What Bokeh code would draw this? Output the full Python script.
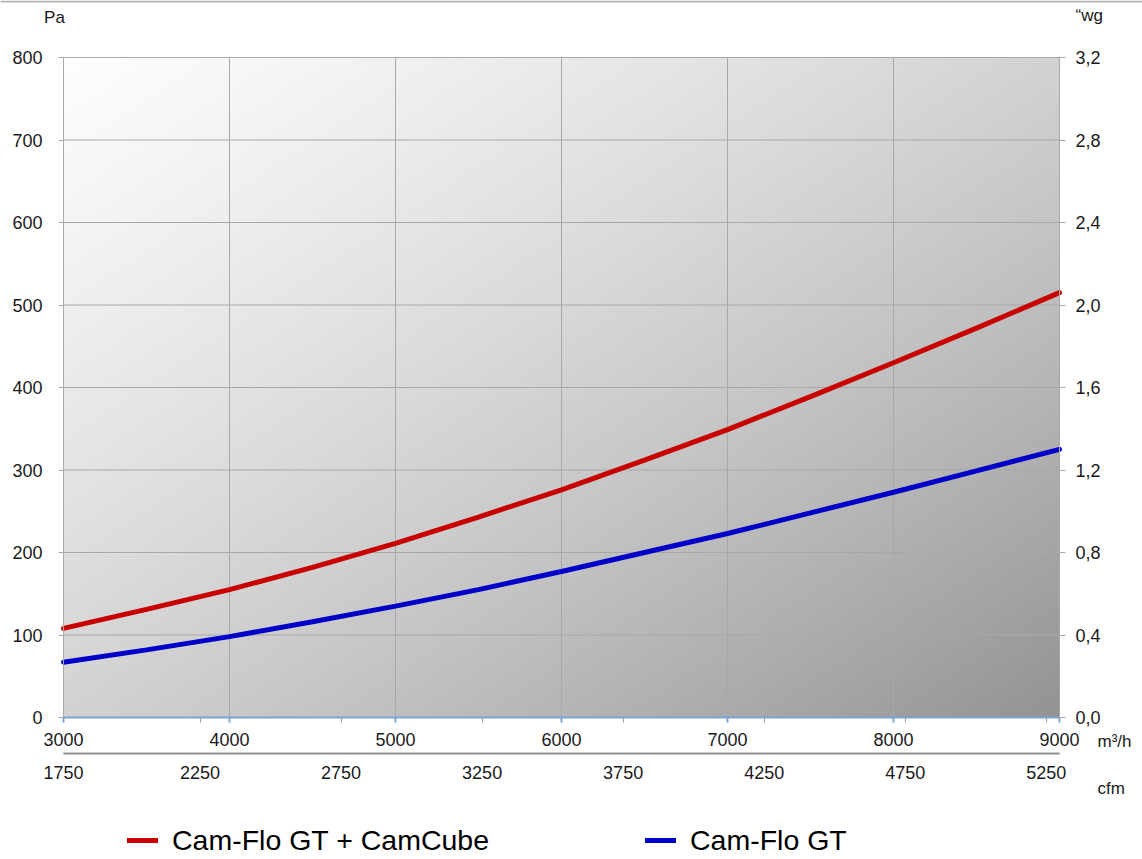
import numpy as np
from bokeh.plotting import figure
from bokeh.models import (LinearAxis, FixedTicker, Range1d, Legend, LegendItem, Label, Span)
from bokeh.embed import file_html
from bokeh.resources import INLINE

# ---- data ----
flow_m3h = [3000, 3500, 4000, 4500, 5000, 5500, 6000, 6500, 7000, 7500, 8000, 8500, 9000]
pa_gt_cube = [108, 131, 155, 182, 211, 243, 276, 312, 349, 389, 430, 472, 515]
pa_gt = [67, 82, 98, 116, 135, 155, 177, 200, 223, 248, 273, 299, 325]

x_ticks = [3000, 4000, 5000, 6000, 7000, 8000, 9000]
y_ticks = [0, 100, 200, 300, 400, 500, 600, 700, 800]
wg_labels = ["0,0", "0,4", "0,8", "1,2", "1,6", "2,0", "2,4", "2,8", "3,2"]
cfm_labels = [1750, 2250, 2750, 3250, 3750, 4250, 4750, 5250]
M3H_PER_CFM = 1.69901

series_names = ["Cam-Flo GT + CamCube", "Cam-Flo GT"]
series_colors = ["#c80000", "#0000c8"]

# ---- layout (pixels) ----
W_PX, H_PX = 1142, 859
PL, PR, PT, PB = 63, 1059, 57, 717          # plot area edges
X0, X1, Y0, Y1 = 3000, 9000, 0, 800
sx = (X1 - X0) / (PR - PL)
sy = (Y1 - Y0) / (PB - PT)
x_range = Range1d(X0 - PL * sx, X1 + (W_PX - PR) * sx)
y_range = Range1d(Y0 - (H_PX - PB) * sy, Y1 + PT * sy)
CFM_AXIS_Y = Y0 - (753 - PB) * sy

FONT = "Liberation Sans"
TICK_COLOR = "#1a1a1a"
GRID = "#a8a8a8"

p = figure(width=W_PX, height=H_PX, output_backend="svg", toolbar_location=None,
           x_range=x_range, y_range=y_range,
           min_border_left=0, min_border_right=0, min_border_top=0, min_border_bottom=0,
           x_axis_type=None, y_axis_type=None)
p.outline_line_color = None
p.background_fill_color = "white"
p.border_fill_color = "white"

# gradient background of the plot area
H, W = 200, 300
u = np.linspace(0, 1, W)[None, :]
v = np.linspace(0, 1, H)[:, None]          # row 0 = bottom
t = (u + (1 - v)) / 2.0
val = np.clip(254 - 69 * t - 38 * t * t, 0, 255).astype(np.uint32)
img = (np.uint32(255) << 24) | (val << 16) | (val << 8) | val
p.image_rgba(image=[img.astype(np.uint32)], x=X0, y=Y0, dw=X1 - X0, dh=Y1 - Y0, level="image")

# grid lines, limited to the plot area
p.segment(x0=x_ticks, y0=[Y0] * len(x_ticks), x1=x_ticks, y1=[Y1] * len(x_ticks),
          line_color=GRID, line_width=1, level="underlay")
p.segment(x0=[X0] * len(y_ticks), y0=y_ticks, x1=[X1] * len(y_ticks), y1=y_ticks,
          line_color=GRID, line_width=1, level="underlay")

# base line of the cfm scale
p.segment(x0=[X0], y0=[CFM_AXIS_Y], x1=[X1], y1=[CFM_AXIS_Y],
          line_color="#909090", line_width=2)

# thin rule along the top edge of the picture
p.add_layout(Span(location=y_range.end - 1.0 * sy, dimension="width",
                  line_color="#b4b4b4", line_width=2))

# axes
yl = LinearAxis(ticker=FixedTicker(ticks=y_ticks), fixed_location=X0, bounds=(Y0, Y1))
yl.axis_line_color = GRID
yl.major_tick_line_color = GRID
yl.major_tick_out = 5
yl.major_tick_in = 0
yl.minor_tick_line_color = None
yl.major_label_standoff = 16
p.add_layout(yl, "left")

yr = LinearAxis(ticker=FixedTicker(ticks=y_ticks), fixed_location=X1, bounds=(Y0, Y1),
                major_label_overrides={y: s for y, s in zip(y_ticks, wg_labels)})
yr.axis_line_color = GRID
yr.major_tick_line_color = GRID
yr.major_tick_out = 6
yr.major_tick_in = 0
yr.minor_tick_line_color = None
yr.major_label_standoff = 10
p.add_layout(yr, "right")

cfm_pos = [max(X0, c * M3H_PER_CFM) for c in cfm_labels]

xb = LinearAxis(ticker=FixedTicker(ticks=x_ticks, minor_ticks=cfm_pos[1:]),
                fixed_location=Y0, bounds=(X0, X1))
xb.axis_line_color = "#7ea3d3"
xb.axis_line_width = 2
xb.major_tick_line_color = "#7ea3d3"
xb.major_tick_line_width = 2
xb.major_tick_out = 5
xb.major_tick_in = 0
xb.minor_tick_line_color = "#9a9a9a"
xb.minor_tick_out = 5
xb.minor_tick_in = 0
xb.major_label_standoff = 10
p.add_layout(xb, "below")

xc = LinearAxis(ticker=FixedTicker(ticks=cfm_pos), fixed_location=CFM_AXIS_Y, bounds=(X0, X1),
                major_label_overrides={pos: str(c) for pos, c in zip(cfm_pos, cfm_labels)})
xc.axis_line_color = "#909090"
xc.major_tick_line_color = None
xc.major_tick_out = 0
xc.major_tick_in = 0
xc.minor_tick_line_color = None
xc.major_label_standoff = 12
p.add_layout(xc, "below")

for ax in (yl, yr, xb, xc):
    ax.major_label_text_font = FONT
    ax.major_label_text_font_size = "18px"
    ax.major_label_text_color = TICK_COLOR

# curves
r1 = p.line(flow_m3h, pa_gt_cube, line_color=series_colors[0], line_width=5, line_cap="round")
r2 = p.line(flow_m3h, pa_gt, line_color=series_colors[1], line_width=5, line_cap="round")

# unit labels
def unit_label(text, x, y, xo, yo, align):
    p.add_layout(Label(x=x, y=y, x_offset=xo, y_offset=yo, text=text, text_align=align,
                       text_baseline="middle", text_font=FONT, text_font_size="17px",
                       text_color=TICK_COLOR))

unit_label("Pa", X0, Y1, -9, 40, "center")
unit_label("\u201cwg", X1, Y1, 16, 42, "left")
unit_label("m\u00b3/h", X1, Y0, 38, -24, "left")
unit_label("cfm", X1, Y0, 38, -71, "left")

# series legend (two single-item legends placed side by side)
for r, name, lx in ((r1, series_names[0], 127), (r2, series_names[1], 645)):
    lg = Legend(items=[LegendItem(label=name, renderers=[r])], location=(lx, 0),
                padding=0, margin=0, spacing=0,
                glyph_width=31, glyph_height=38, label_standoff=14, label_height=38,
                border_line_color=None, background_fill_alpha=0,
                label_text_font=FONT, label_text_font_size="28.5px",
                label_text_color="#000000")
    p.add_layout(lg, "center")

open("out.html", "w").write(file_html(p, INLINE))
